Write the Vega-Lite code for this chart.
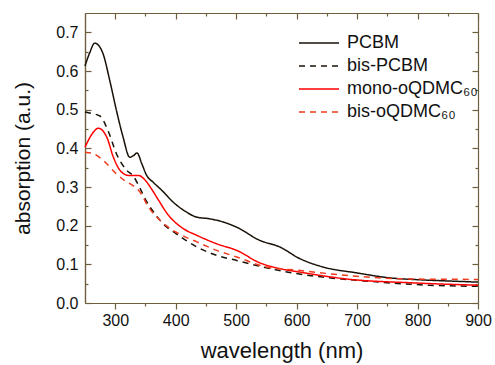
{
  "$schema": "https://vega.github.io/schema/vega-lite/v6.json",
  "width": 393,
  "height": 290,
  "autosize": {"type": "none"},
  "padding": {"left": 85, "top": 13, "right": 17, "bottom": 62},
  "background": "white",
  "config": {
    "font": "Liberation Sans",
    "view": {"stroke": null},
    "axis": {"grid": false, "domainColor": "#6e5f3c", "tickColor": "#6e5f3c", "domainWidth": 1.2, "tickWidth": 1.2, "labelColor": "#111", "titleColor": "#111", "labelFont": "Liberation Sans", "titleFont": "Liberation Sans", "labelFontSize": 16, "titleFontSize": 21, "titleFontWeight": "normal", "labelFlush": false},
    "legend": {"labelFont": "Liberation Sans", "labelFontSize": 18, "labelColor": "#111", "padding": 0}
  },
  "data": {"values": [
    {"s":"PCBM","w":250,"a":0.613},{"s":"PCBM","w":258,"a":0.648},{"s":"PCBM","w":266,"a":0.672},{"s":"PCBM","w":272,"a":0.667},{"s":"PCBM","w":280,"a":0.644},{"s":"PCBM","w":291,"a":0.575},{"s":"PCBM","w":302,"a":0.498},{"s":"PCBM","w":313,"a":0.429},{"s":"PCBM","w":324,"a":0.377},{"s":"PCBM","w":330,"a":0.381},{"s":"PCBM","w":336,"a":0.388},{"s":"PCBM","w":344,"a":0.36},{"s":"PCBM","w":352,"a":0.33},{"s":"PCBM","w":363,"a":0.312},{"s":"PCBM","w":378,"a":0.29},{"s":"PCBM","w":393,"a":0.265},{"s":"PCBM","w":415,"a":0.238},{"s":"PCBM","w":435,"a":0.222},{"s":"PCBM","w":455,"a":0.218},{"s":"PCBM","w":473,"a":0.212},{"s":"PCBM","w":501,"a":0.196},{"s":"PCBM","w":539,"a":0.162},{"s":"PCBM","w":572,"a":0.145},{"s":"PCBM","w":605,"a":0.115},{"s":"PCBM","w":644,"a":0.093},{"s":"PCBM","w":699,"a":0.078},{"s":"PCBM","w":754,"a":0.065},{"s":"PCBM","w":804,"a":0.06},{"s":"PCBM","w":850,"a":0.057},{"s":"PCBM","w":900,"a":0.054},
    {"s":"bis-PCBM","w":250,"a":0.494},{"s":"bis-PCBM","w":262,"a":0.49},{"s":"bis-PCBM","w":275,"a":0.483},{"s":"bis-PCBM","w":288,"a":0.446},{"s":"bis-PCBM","w":302,"a":0.386},{"s":"bis-PCBM","w":319,"a":0.343},{"s":"bis-PCBM","w":330,"a":0.328},{"s":"bis-PCBM","w":340,"a":0.3},{"s":"bis-PCBM","w":352,"a":0.262},{"s":"bis-PCBM","w":365,"a":0.232},{"s":"bis-PCBM","w":379,"a":0.205},{"s":"bis-PCBM","w":401,"a":0.179},{"s":"bis-PCBM","w":435,"a":0.145},{"s":"bis-PCBM","w":468,"a":0.123},{"s":"bis-PCBM","w":501,"a":0.11},{"s":"bis-PCBM","w":550,"a":0.091},{"s":"bis-PCBM","w":600,"a":0.076},{"s":"bis-PCBM","w":644,"a":0.067},{"s":"bis-PCBM","w":737,"a":0.054},{"s":"bis-PCBM","w":820,"a":0.046},{"s":"bis-PCBM","w":900,"a":0.043},
    {"s":"mono-oQDMC₆₀","w":250,"a":0.403},{"s":"mono-oQDMC₆₀","w":264,"a":0.442},{"s":"mono-oQDMC₆₀","w":272,"a":0.452},{"s":"mono-oQDMC₆₀","w":286,"a":0.429},{"s":"mono-oQDMC₆₀","w":297,"a":0.377},{"s":"mono-oQDMC₆₀","w":308,"a":0.343},{"s":"mono-oQDMC₆₀","w":322,"a":0.33},{"s":"mono-oQDMC₆₀","w":338,"a":0.33},{"s":"mono-oQDMC₆₀","w":352,"a":0.313},{"s":"mono-oQDMC₆₀","w":360,"a":0.295},{"s":"mono-oQDMC₆₀","w":370,"a":0.27},{"s":"mono-oQDMC₆₀","w":388,"a":0.227},{"s":"mono-oQDMC₆₀","w":413,"a":0.192},{"s":"mono-oQDMC₆₀","w":435,"a":0.175},{"s":"mono-oQDMC₆₀","w":468,"a":0.153},{"s":"mono-oQDMC₆₀","w":501,"a":0.136},{"s":"mono-oQDMC₆₀","w":539,"a":0.104},{"s":"mono-oQDMC₆₀","w":572,"a":0.089},{"s":"mono-oQDMC₆₀","w":605,"a":0.08},{"s":"mono-oQDMC₆₀","w":683,"a":0.062},{"s":"mono-oQDMC₆₀","w":793,"a":0.052},{"s":"mono-oQDMC₆₀","w":900,"a":0.046},
    {"s":"bis-oQDMC₆₀","w":250,"a":0.39},{"s":"bis-oQDMC₆₀","w":264,"a":0.386},{"s":"bis-oQDMC₆₀","w":280,"a":0.369},{"s":"bis-oQDMC₆₀","w":302,"a":0.334},{"s":"bis-oQDMC₆₀","w":316,"a":0.316},{"s":"bis-oQDMC₆₀","w":328,"a":0.305},{"s":"bis-oQDMC₆₀","w":341,"a":0.287},{"s":"bis-oQDMC₆₀","w":355,"a":0.248},{"s":"bis-oQDMC₆₀","w":374,"a":0.214},{"s":"bis-oQDMC₆₀","w":401,"a":0.183},{"s":"bis-oQDMC₆₀","w":435,"a":0.158},{"s":"bis-oQDMC₆₀","w":468,"a":0.136},{"s":"bis-oQDMC₆₀","w":501,"a":0.119},{"s":"bis-oQDMC₆₀","w":550,"a":0.093},{"s":"bis-oQDMC₆₀","w":600,"a":0.085},{"s":"bis-oQDMC₆₀","w":699,"a":0.069},{"s":"bis-oQDMC₆₀","w":793,"a":0.062},{"s":"bis-oQDMC₆₀","w":900,"a":0.061}
  ]},
  "layer": [
    {
      "mark": {"type": "line", "strokeWidth": 1.5, "interpolate": "monotone"},
      "encoding": {
        "x": {"field": "w", "type": "quantitative", "scale": {"domain": [250, 900], "nice": false},
          "axis": {"orient": "bottom", "title": "wavelength (nm)", "values": [300,350,400,450,500,550,600,650,700,750,800,850,900],
            "labelExpr": "datum.value % 100 === 0 ? datum.label : ''",
            "ticks": true, "tickSize": 6,
            "tickDash": {"condition": {"test": "datum.value % 100 === 0", "value": [6, 0]}, "value": [3, 10]},
            "labelPadding": 3, "titlePadding": 12, "titleFontSize": 22}},
        "y": {"field": "a", "type": "quantitative", "scale": {"domain": [0, 0.75], "nice": false, "zero": false},
          "axis": {"orient": "left", "title": "absorption (a.u.)", "values": [0,0.1,0.2,0.3,0.4,0.5,0.6,0.7],
            "format": ".1f", "ticks": false, "tickSize": 0,
            "labelPadding": 7, "titlePadding": 22}},
        "color": {"field": "s", "type": "nominal",
          "scale": {"domain": ["PCBM","bis-PCBM","mono-oQDMC₆₀","bis-oQDMC₆₀"], "range": ["#1a1208","#1a1208","#ff0000","#f03a1e"]},
          "legend": {"title": null, "orient": "none", "legendX": 223, "legendY": 19, "symbolType": "M-2,0H2", "symbolSize": 400, "symbolStrokeWidth": 1.5, "rowPadding": 3, "labelOffset": 17}},
        "strokeDash": {"field": "s", "type": "nominal",
          "scale": {"domain": ["PCBM","bis-PCBM","mono-oQDMC₆₀","bis-oQDMC₆₀"], "range": [[1,0],[6,5],[1,0],[6,5]]},
          "legend": {"title": null, "orient": "none", "legendX": 223, "legendY": 19, "symbolType": "M-2,0H2", "symbolSize": 400, "symbolStrokeWidth": 1.5, "rowPadding": 3, "labelOffset": 17}}
      }
    },
    {
      "mark": {"type": "line", "opacity": 0},
      "encoding": {
        "x": {"field": "w", "type": "quantitative",
          "axis": {"orient": "bottom", "offset": -290, "title": null, "labels": false, "values": [300,350,400,450,500,550,600,650,700,750,800,850,900],
            "ticks": true, "tickSize": 6,
            "tickDash": {"condition": {"test": "datum.value % 100 === 0", "value": [6, 0]}, "value": [3, 10]}}},
        "y": {"field": "a", "type": "quantitative",
          "axis": {"orient": "right", "offset": -393, "title": null, "labels": false, "values": [0,0.05,0.1,0.15,0.2,0.25,0.3,0.35,0.4,0.45,0.5,0.55,0.6,0.65,0.7],
            "ticks": true, "tickSize": 6,
            "tickDash": {"condition": {"test": "round(datum.value*100) % 10 === 0", "value": [6, 0]}, "value": [3, 10]}}}
      }
    },
    {
      "mark": {"type": "line", "opacity": 0},
      "encoding": {
        "x": {"field": "w", "type": "quantitative", "axis": null},
        "y": {"field": "a", "type": "quantitative",
          "axis": {"orient": "left", "offset": -393, "title": null, "labels": false, "values": [0,0.05,0.1,0.15,0.2,0.25,0.3,0.35,0.4,0.45,0.5,0.55,0.6,0.65,0.7],
            "ticks": true, "tickSize": 6,
            "tickDash": {"condition": {"test": "round(datum.value*100) % 10 === 0", "value": [6, 0]}, "value": [3, 10]}}}
      }
    }
  ],
  "resolve": {"axis": {"x": "independent", "y": "independent"}}
}
